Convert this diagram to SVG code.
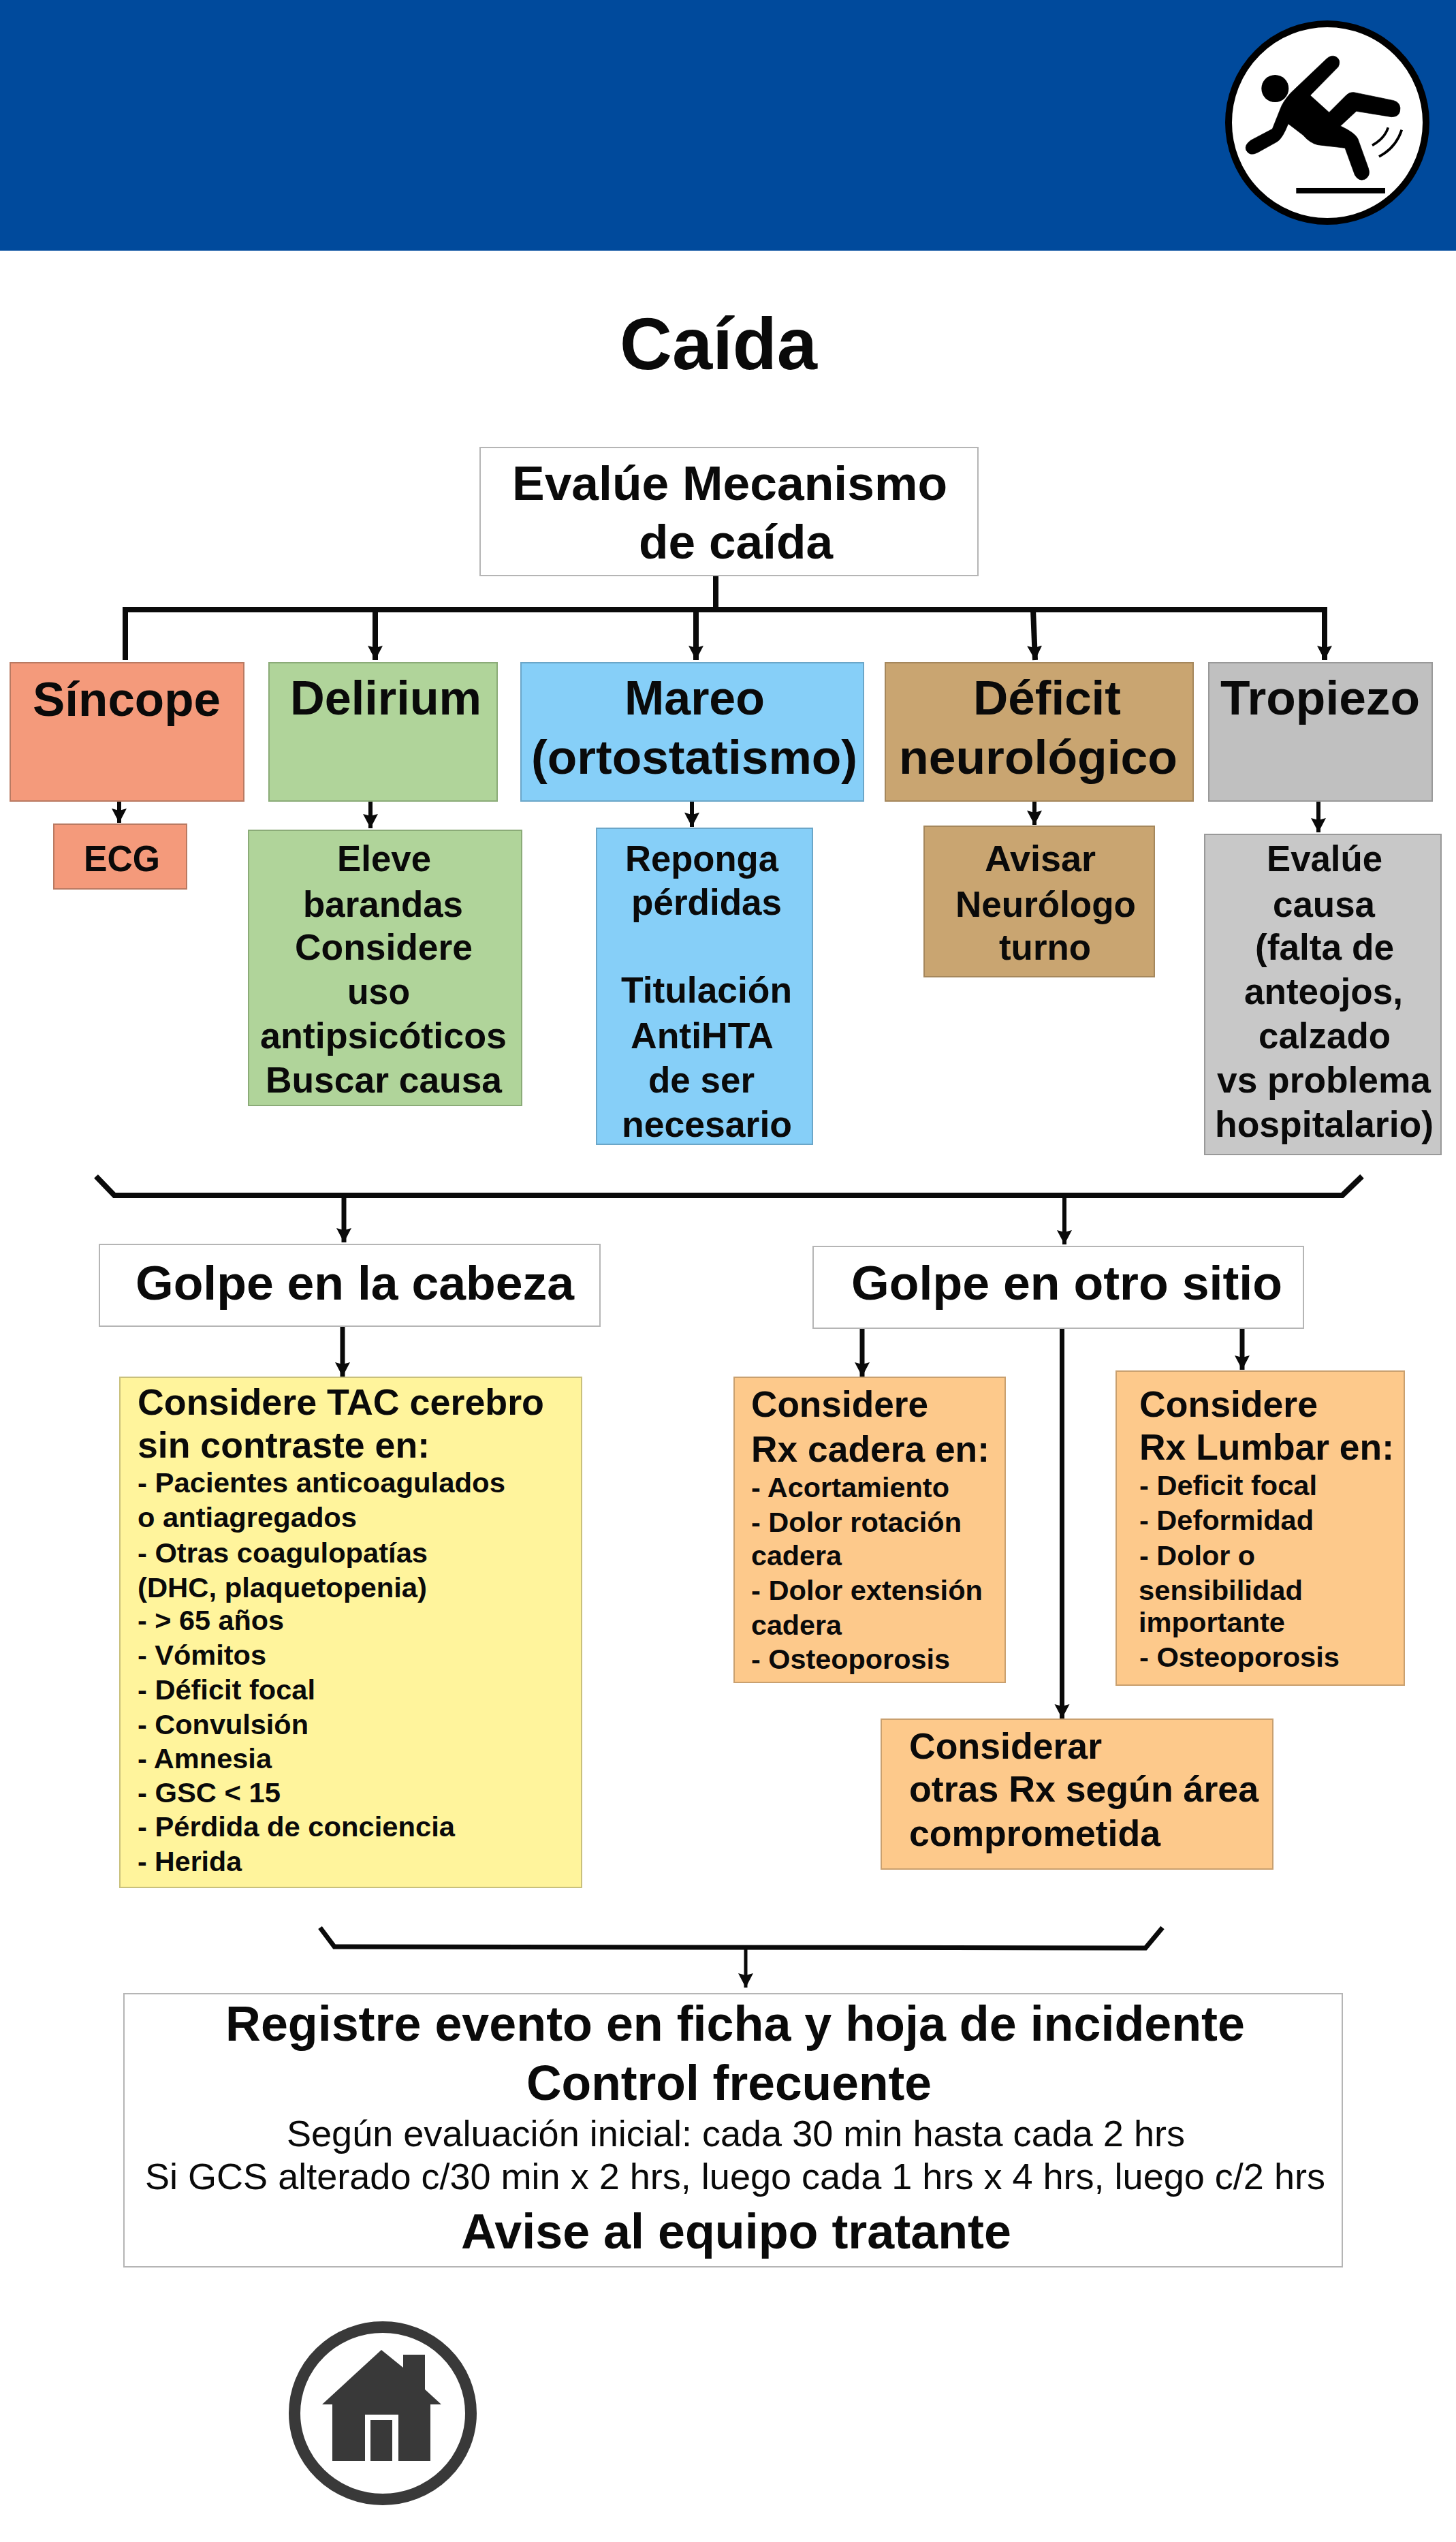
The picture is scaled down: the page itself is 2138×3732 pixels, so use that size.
<svg xmlns="http://www.w3.org/2000/svg" width="2138" height="3732" viewBox="0 0 2138 3732">
<defs>
<style>
text{font-family:"Liberation Sans",Arial,sans-serif;font-weight:700;fill:#0a0a0a}
.reg{font-weight:400}
.s{font-size:41px}.m{font-size:54px}.l{font-size:71px}.h{font-size:72px}
.box{stroke-width:2}
.w{fill:#fff;stroke:#b5b5b5}
.r{fill:#f49a7b;stroke:#b97a62}
.g{fill:#b0d49a;stroke:#8bab78}
.b{fill:#86cff8;stroke:#6ba6c8}
.t{fill:#c9a571;stroke:#a5875c}
.y{fill:#c0c0c0;stroke:#999}
.y2{fill:#c8c8c8;stroke:#999}
.ye{fill:#fff49c;stroke:#c9c07c}
.o{fill:#fdc98b;stroke:#c9a06f}
.c{fill:none;stroke:#0a0a0a;stroke-linecap:butt;stroke-linejoin:miter}
</style>
<marker id="a" markerUnits="userSpaceOnUse" markerWidth="24" markerHeight="24" refX="21" refY="12" orient="auto"><path d="M0 1L21 12L0 23L3 12Z" fill="#0a0a0a"/></marker>
</defs>
<rect width="2138" height="3732" fill="#fff"/>
<g id="header">
<rect width="2138" height="368" fill="#004a9c"/>
<circle cx="1949" cy="180" r="145" fill="#fff" stroke="#000" stroke-width="10"/>
<g transform="translate(1700 0) scale(.3333)" fill="#000" stroke="#000" stroke-width="2" stroke-linejoin="round">
<circle cx="517" cy="390" r="60" stroke="none"/>
<path d="M745 258L585 410Q550 450 540 480L505 568L410 618Q380 640 390 662Q405 690 440 672L525 625Q550 610 575 545L640 595Q670 630 705 638L825 652L868 770Q885 800 912 790Q940 775 928 740L882 612Q870 585 805 555L875 490L1030 515Q1070 515 1068 475Q1065 450 1040 443L865 407Q845 405 830 420L755 495L672 420L795 295Q810 265 785 250Q765 240 745 258Z"/>
<path d="M945 640Q1000 610 1015 562M975 690Q1050 650 1075 572" fill="none" stroke-width="11"/>
<rect x="610" y="828" width="392" height="24" stroke="none"/>
</g>
</g>
<text id="title" x="910" y="542" font-size="107" textLength="290" lengthAdjust="spacingAndGlyphs">Caída</text>
<g id="connectors">
<g class="c" stroke-width="8">
<path d="M1051 845V895"/>
<path d="M184 969V895H1945V969" marker-end="url(#a)"/>
<path d="M551 895V969" marker-end="url(#a)"/>
<path d="M1022 895V969" marker-end="url(#a)"/>
<path d="M1517 895L1520 969" marker-end="url(#a)"/>
<path d="M141 1727L168 1755H1971L2000 1727"/>
<path d="M505 1755V1824" stroke-width="7" marker-end="url(#a)"/>
<path d="M1563 1755V1827" stroke-width="6" marker-end="url(#a)"/>
<path d="M503 1947V2021" stroke-width="7" marker-end="url(#a)"/>
<path d="M1266 1950V2021" stroke-width="7" marker-end="url(#a)"/>
<path d="M1559.500 1950V2523" stroke-width="7" marker-end="url(#a)"/>
<path d="M1824 1950V2011" stroke-width="7" marker-end="url(#a)"/>
<path d="M470 2830L491 2858L1682 2860L1707 2830" stroke-width="7"/>
</g>
<g class="c" stroke-width="6">
<path d="M175 1176V1208" marker-end="url(#a)"/>
<path d="M544 1176V1216" marker-end="url(#a)"/>
<path d="M1016 1176V1214" marker-end="url(#a)"/>
<path d="M1519 1176V1211" marker-end="url(#a)"/>
<path d="M1936 1176V1222" marker-end="url(#a)"/>
<path d="M1095 2860V2918" stroke-width="5" marker-end="url(#a)"/>
</g>
</g>
<g id="evalue"><rect class="box w" x="705" y="657" width="731" height="188"/>
<text class="l" x="752" y="734" textLength="639" lengthAdjust="spacingAndGlyphs">Evalúe Mecanismo</text>
<text class="l" x="938" y="820" textLength="285" lengthAdjust="spacingAndGlyphs">de caída</text></g>
<g id="sincope"><rect class="box r" x="15" y="973" width="343" height="203"/>
<text class="l" x="48" y="1051" textLength="276" lengthAdjust="spacingAndGlyphs">Síncope</text></g>
<g id="delirium"><rect class="box g" x="395" y="973" width="335" height="203"/>
<text class="l" x="426" y="1049" textLength="281" lengthAdjust="spacingAndGlyphs">Delirium</text></g>
<g id="mareo"><rect class="box b" x="765" y="973" width="503" height="203"/>
<text class="l" x="917" y="1049" textLength="206" lengthAdjust="spacingAndGlyphs">Mareo</text>
<text class="l" x="780" y="1136" textLength="479" lengthAdjust="spacingAndGlyphs">(ortostatismo)</text></g>
<g id="deficit"><rect class="box t" x="1300" y="973" width="452" height="203"/>
<text class="l" x="1429" y="1049" textLength="217" lengthAdjust="spacingAndGlyphs">Déficit</text>
<text class="l" x="1320" y="1136" textLength="409" lengthAdjust="spacingAndGlyphs">neurológico</text></g>
<g id="tropiezo"><rect class="box y" x="1775" y="973" width="328" height="203"/>
<text class="l" x="1792" y="1049" textLength="293" lengthAdjust="spacingAndGlyphs">Tropiezo</text></g>
<g id="ecg"><rect class="box r" x="79" y="1210" width="195" height="95"/>
<text class="m" x="123" y="1279" textLength="112" lengthAdjust="spacingAndGlyphs">ECG</text></g>
<g id="eleve"><rect class="box g" x="365" y="1219" width="401" height="404"/>
<text class="m" x="495" y="1279" textLength="138" lengthAdjust="spacingAndGlyphs">Eleve</text>
<text class="m" x="445" y="1346" textLength="235" lengthAdjust="spacingAndGlyphs">barandas</text>
<text class="m" x="433" y="1409" textLength="261" lengthAdjust="spacingAndGlyphs">Considere</text>
<text class="m" x="510" y="1474" textLength="92" lengthAdjust="spacingAndGlyphs">uso</text>
<text class="m" x="382" y="1539" textLength="362" lengthAdjust="spacingAndGlyphs">antipsicóticos</text>
<text class="m" x="390" y="1604" textLength="347" lengthAdjust="spacingAndGlyphs">Buscar causa</text></g>
<g id="reponga"><rect class="box b" x="876" y="1216" width="317" height="464"/>
<text class="m" x="918" y="1279" textLength="225" lengthAdjust="spacingAndGlyphs">Reponga</text>
<text class="m" x="927" y="1343" textLength="221" lengthAdjust="spacingAndGlyphs">pérdidas</text>
<text class="m" x="912" y="1472" textLength="251" lengthAdjust="spacingAndGlyphs">Titulación</text>
<text class="m" x="926" y="1539" textLength="210" lengthAdjust="spacingAndGlyphs">AntiHTA</text>
<text class="m" x="952" y="1604" textLength="156" lengthAdjust="spacingAndGlyphs">de ser</text>
<text class="m" x="913" y="1669" textLength="250" lengthAdjust="spacingAndGlyphs">necesario</text></g>
<g id="avisar"><rect class="box t" x="1357" y="1213" width="338" height="221"/>
<text class="m" x="1446" y="1279" textLength="163" lengthAdjust="spacingAndGlyphs">Avisar</text>
<text class="m" x="1403" y="1346" textLength="265" lengthAdjust="spacingAndGlyphs">Neurólogo</text>
<text class="m" x="1467" y="1409" textLength="135" lengthAdjust="spacingAndGlyphs">turno</text></g>
<g id="causa"><rect class="box y2" x="1769" y="1225" width="347" height="470"/>
<text class="m" x="1860" y="1279" textLength="170" lengthAdjust="spacingAndGlyphs">Evalúe</text>
<text class="m" x="1869" y="1346" textLength="150" lengthAdjust="spacingAndGlyphs">causa</text>
<text class="m" x="1843" y="1409" textLength="204" lengthAdjust="spacingAndGlyphs">(falta de</text>
<text class="m" x="1827" y="1474" textLength="233" lengthAdjust="spacingAndGlyphs">anteojos,</text>
<text class="m" x="1848" y="1539" textLength="194" lengthAdjust="spacingAndGlyphs">calzado</text>
<text class="m" x="1787" y="1604" textLength="314" lengthAdjust="spacingAndGlyphs">vs problema</text>
<text class="m" x="1784" y="1669" textLength="321" lengthAdjust="spacingAndGlyphs">hospitalario)</text></g>
<g id="golpe-cabeza"><rect class="box w" x="146" y="1827" width="735" height="120"/>
<text class="l" x="199" y="1908" textLength="644" lengthAdjust="spacingAndGlyphs">Golpe en la cabeza</text></g>
<g id="golpe-otro"><rect class="box w" x="1194" y="1830" width="720" height="120"/>
<text class="l" x="1250" y="1908" textLength="633" lengthAdjust="spacingAndGlyphs">Golpe en otro sitio</text></g>
<g id="tac"><rect class="box ye" x="176" y="2022" width="678" height="749"/>
<text class="m" x="202" y="2077" textLength="597" lengthAdjust="spacingAndGlyphs">Considere TAC cerebro</text>
<text class="m" x="202" y="2140" textLength="429" lengthAdjust="spacingAndGlyphs">sin contraste en:</text>
<text class="s" x="202" y="2191" textLength="540" lengthAdjust="spacingAndGlyphs">- Pacientes anticoagulados</text>
<text class="s" x="202" y="2242" textLength="322" lengthAdjust="spacingAndGlyphs">o antiagregados</text>
<text class="s" x="202" y="2294" textLength="426" lengthAdjust="spacingAndGlyphs">- Otras coagulopatías</text>
<text class="s" x="202" y="2345" textLength="425" lengthAdjust="spacingAndGlyphs">(DHC, plaquetopenia)</text>
<text class="s" x="202" y="2393" textLength="215" lengthAdjust="spacingAndGlyphs">- &gt; 65 años</text>
<text class="s" x="202" y="2444" textLength="189" lengthAdjust="spacingAndGlyphs">- Vómitos</text>
<text class="s" x="202" y="2495" textLength="261" lengthAdjust="spacingAndGlyphs">- Déficit focal</text>
<text class="s" x="202" y="2546" textLength="251" lengthAdjust="spacingAndGlyphs">- Convulsión</text>
<text class="s" x="202" y="2596" textLength="197" lengthAdjust="spacingAndGlyphs">- Amnesia</text>
<text class="s" x="202" y="2646" textLength="210" lengthAdjust="spacingAndGlyphs">- GSC &lt; 15</text>
<text class="s" x="202" y="2696" textLength="466" lengthAdjust="spacingAndGlyphs">- Pérdida de conciencia</text>
<text class="s" x="202" y="2747" textLength="153" lengthAdjust="spacingAndGlyphs">- Herida</text></g>
<g id="rx-cadera"><rect class="box o" x="1078" y="2022" width="398" height="448"/>
<text class="m" x="1103" y="2080" textLength="260" lengthAdjust="spacingAndGlyphs">Considere</text>
<text class="m" x="1103" y="2146" textLength="350" lengthAdjust="spacingAndGlyphs">Rx cadera en:</text>
<text class="s" x="1103" y="2198" textLength="291" lengthAdjust="spacingAndGlyphs">- Acortamiento</text>
<text class="s" x="1103" y="2249" textLength="309" lengthAdjust="spacingAndGlyphs">- Dolor rotación</text>
<text class="s" x="1103" y="2298" textLength="133" lengthAdjust="spacingAndGlyphs">cadera</text>
<text class="s" x="1103" y="2349" textLength="340" lengthAdjust="spacingAndGlyphs">- Dolor extensión</text>
<text class="s" x="1103" y="2400" textLength="133" lengthAdjust="spacingAndGlyphs">cadera</text>
<text class="s" x="1103" y="2450" textLength="292" lengthAdjust="spacingAndGlyphs">- Osteoporosis</text></g>
<g id="rx-lumbar"><rect class="box o" x="1639" y="2013" width="423" height="461"/>
<text class="m" x="1673" y="2080" textLength="262" lengthAdjust="spacingAndGlyphs">Considere</text>
<text class="m" x="1673" y="2143" textLength="374" lengthAdjust="spacingAndGlyphs">Rx Lumbar en:</text>
<text class="s" x="1673" y="2195" textLength="261" lengthAdjust="spacingAndGlyphs">- Deficit focal</text>
<text class="s" x="1673" y="2246" textLength="256" lengthAdjust="spacingAndGlyphs">- Deformidad</text>
<text class="s" x="1673" y="2298" textLength="170" lengthAdjust="spacingAndGlyphs">- Dolor o</text>
<text class="s" x="1672" y="2349" textLength="241" lengthAdjust="spacingAndGlyphs">sensibilidad</text>
<text class="s" x="1672" y="2396" textLength="215" lengthAdjust="spacingAndGlyphs">importante</text>
<text class="s" x="1673" y="2447" textLength="294" lengthAdjust="spacingAndGlyphs">- Osteoporosis</text></g>
<g id="otras-rx"><rect class="box o" x="1294" y="2524" width="575" height="220"/>
<text class="m" x="1335" y="2582" textLength="283" lengthAdjust="spacingAndGlyphs">Considerar</text>
<text class="m" x="1335" y="2645" textLength="513" lengthAdjust="spacingAndGlyphs">otras Rx según área</text>
<text class="m" x="1335" y="2710" textLength="369" lengthAdjust="spacingAndGlyphs">comprometida</text></g>
<g id="registre"><rect class="box w" x="182" y="2927" width="1789" height="401"/>
<text class="h" x="331" y="2996" textLength="1497" lengthAdjust="spacingAndGlyphs">Registre evento en ficha y hoja de incidente</text>
<text class="h" x="773" y="3083" textLength="595" lengthAdjust="spacingAndGlyphs">Control frecuente</text>
<text class="reg" font-size="54" x="421" y="3151" textLength="1319" lengthAdjust="spacingAndGlyphs">Según evaluación inicial: cada 30 min hasta cada 2 hrs</text>
<text class="reg" font-size="54" x="213" y="3214" textLength="1733" lengthAdjust="spacingAndGlyphs">Si GCS alterado c/30 min x 2 hrs, luego cada 1 hrs x 4 hrs, luego c/2 hrs</text>
<text class="h" x="677" y="3301" textLength="808" lengthAdjust="spacingAndGlyphs">Avise al equipo tratante</text></g>
<g id="home">
<ellipse cx="562" cy="3543" rx="129.500" ry="126.500" fill="#fff" stroke="#393939" stroke-width="17"/>
<path fill="#393939" d="M560 3450L592 3476V3457H624V3508L648 3530H632V3613H585V3545H536V3613H488V3530H473Z"/>
<rect x="544" y="3553" width="32" height="60" fill="#393939"/>
</g>
</svg>
